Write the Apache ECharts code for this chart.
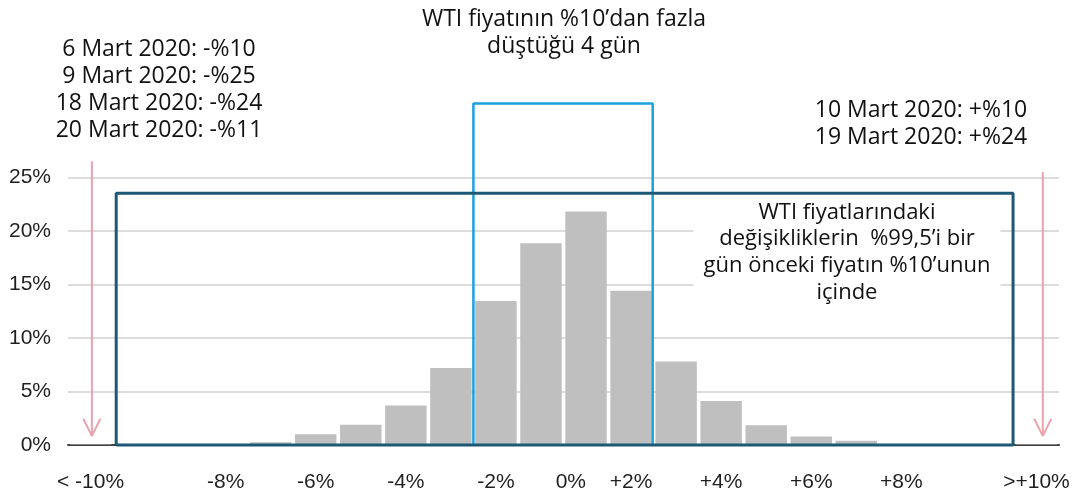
<!DOCTYPE html>
<html>
<head>
<meta charset="utf-8">
<script src="https://cdn.jsdelivr.net/npm/echarts@6/dist/echarts.min.js"></script>
<style>
  html, body { margin: 0; padding: 0; background: #fff; }
  #chart { width: 1079px; height: 494px; }
</style>
</head>
<body>
<div id="chart"></div>
<script>
// günlük değişim aralıkları (%1'lik kutular) ve gün payları (%)
const categories = ['< -10%', '-10%', '-9%', '-8%', '-7%', '-6%', '-5%', '-4%', '-3%', '-2%', '-1%',
  '+1%', '+2%', '+3%', '+4%', '+5%', '+6%', '+7%', '+8%', '+9%', '+10%', '>+10%'];
const shares = [0.05, 0, 0, 0, 0.25, 1.0, 1.9, 3.7, 7.2, 13.45, 18.85, 21.8, 14.4, 7.8, 4.1, 1.85, 0.8, 0.4, 0, 0, 0, 0.05];
// eksende yazılan etiketler (kutu sırasına göre)
const tickLabels = ['< -10%', '', '', '-8%', '', '-6%', '', '-4%', '', '-2%', '',
  '0%', '+2%', '', '+4%', '', '+6%', '', '+8%', '', '', '>+10%'];
const yTicks = [0, 5, 10, 15, 20, 25];

// açıklama çerçeveleri ve oklar (kutu sırası / % cinsinden)
const wideBox = [[1.07, 0], [1.07, 23.5], [20.98, 23.5], [20.98, 0], [1.07, 0]];
const narrowBox = [[9, 0], [9, 31.9], [12.98, 31.9], [12.98, 0]];
const leftArrow = [[0.53, 26.5], [0.53, 0.85]];
const leftHead = [[0.34, 2.45], [0.53, 0.85], [0.72, 2.45]];
const rightArrow = [[21.64, 25.5], [21.64, 0.85]];
const rightHead = [[21.45, 2.45], [21.64, 0.85], [21.83, 2.45]];

const noteFont = { fontFamily: 'Open Sans', fontSize: 23, fontWeight: 'normal', color: '#111', lineHeight: 27 };
const boxFont = Object.assign({}, noteFont, { fontSize: 22, lineHeight: 26.7 });

let chart = echarts.init(document.getElementById('chart'));

function outline(points, color, width) {
    return {
        type: 'line', xAxisIndex: 1, data: points, symbol: 'none', clip: false, silent: true,
        lineStyle: { color: color, width: width }, z: 3
    };
}

chart.setOption({
    animation: false,
    title: [
        { text: 'WTI fiyatının %10’dan fazla\ndüştüğü 4 gün', left: 564, top: 6, textAlign: 'center', padding: 0,
          textStyle: noteFont },
        { text: '6 Mart 2020: -%10\n9 Mart 2020: -%25\n18 Mart 2020: -%24\n20 Mart 2020: -%11', left: 159, top: 36,
          textAlign: 'center', padding: 0, textStyle: noteFont },
        { text: '10 Mart 2020: +%10\n19 Mart 2020: +%24', left: 921, top: 97, textAlign: 'center', padding: 0,
          textStyle: noteFont },
        { text: 'WTI fiyatlarındaki\ndeğişikliklerin  %99,5’i bir\ngün önceki fiyatın %10’unun\niçinde', left: 837, top: 196,
          textAlign: 'center', padding: [3, 10], backgroundColor: '#fff', textStyle: boxFont }
    ],
    grid: { left: 68, right: 20, top: 177.3, bottom: 49, outerBoundsMode: 'none' },
    xAxis: [
        {
            type: 'category',
            data: categories.map((c, i) => i === 11 ? { value: c, textStyle: { align: 'right' } } : c),
            axisLine: { lineStyle: { color: '#404040', width: 2 } },
            axisTick: { interval: 0, length: 7, lineStyle: { color: '#404040', width: 2 } },
            axisLabel: {
                interval: 0,
                margin: 27,
                fontFamily: 'Liberation Sans',
                fontSize: 21,
                color: '#1f1f1f',
                formatter: (v, i) => tickLabels[i]
            }
        },
        { type: 'value', min: 0, max: categories.length, show: false }
    ],
    yAxis: {
        type: 'value',
        min: yTicks[0],
        max: yTicks[yTicks.length - 1],
        interval: 5,
        axisLine: { show: false },
        axisTick: { show: false },
        axisLabel: { margin: 17, fontFamily: 'Liberation Sans', fontSize: 21, color: '#1f1f1f', formatter: '{value}%' },
        splitLine: { lineStyle: { color: '#dcdcdc', width: 2 } }
    },
    series: [
        {
            type: 'bar',
            data: shares,
            barCategoryGap: '8%',
            itemStyle: { color: '#bfbfbf' },
            silent: true
        },
        outline(narrowBox, '#1ba1de', 2.5),
        outline(wideBox, '#1e5877', 3),
        outline(leftArrow, '#eaa3ae', 2),
        outline(leftHead, '#eaa3ae', 2),
        outline(rightArrow, '#eaa3ae', 2),
        outline(rightHead, '#eaa3ae', 2)
    ]
});
</script>
</body>
</html>
